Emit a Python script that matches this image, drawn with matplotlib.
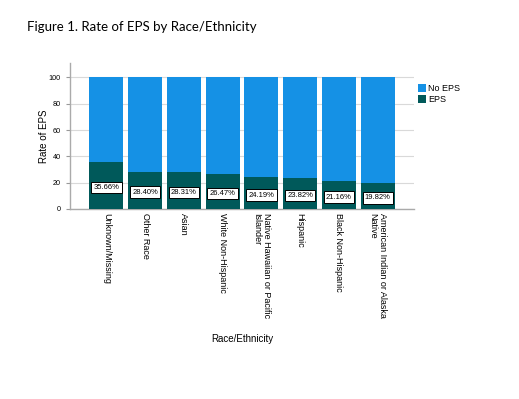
import matplotlib.pyplot as plt

categories = ["Unknown/Missing", "Other Race", "Asian", "White Non-Hispanic",
              "Native Hawaiian or Pacific\nIslander", "Hispanic",
              "Black Non-Hispanic", "American Indian or Alaska\nNative"]
eps = [35.66, 28.40, 28.31, 26.47, 24.19, 23.82, 21.16, 19.82]
no_eps = [100 - v for v in eps]
yticks = [0, 20, 40, 60, 80, 100]

blue = "#1591e5"
teal = "#00595a"

plt.rcParams["font.family"] = ["Liberation Sans", "DejaVu Sans"]

fig = plt.figure(figsize=(5.19, 3.99), dpi=100)
fig.text(0.052, 0.932, "Figure 1. Rate of EPS by Race/Ethnicity",
         fontsize=9.5, family="Lato", va="center")

ax = fig.add_axes([0.1349, 0.4762, 0.6628, 0.366])
x = range(len(categories))
ax.bar(x, eps, width=0.88, color=teal, label="EPS", zorder=3)
ax.bar(x, no_eps, bottom=eps, width=0.88, color=blue, label="No EPS", zorder=3)

for i, v in enumerate(eps):
    ax.text(i, v / 2 - 1.5, f"{v:.2f}%", ha="center", va="center", fontsize=5.5,
            bbox=dict(boxstyle="square,pad=0.3", fc="white", ec="black", lw=0.7),
            zorder=4)

ax.set_xlim(-0.935, 7.935)
ax.set_ylim(0, 111)
ax.set_yticks(yticks)
ax.set_xticks(list(x))
ax.set_xticklabels(categories, rotation=-90, fontsize=6.5, va="top", ha="center",
                   multialignment="left")
ax.tick_params(axis="y", labelsize=5.2, length=3, color="#999999")
ax.tick_params(axis="x", length=0, pad=3)
ax.grid(axis="y", color="#d9d9d9", lw=0.8, zorder=0)
for s in ["top", "right"]:
    ax.spines[s].set_visible(False)
for s in ["left", "bottom"]:
    ax.spines[s].set_color("#aaaaaa")
    ax.spines[s].set_linewidth(1)

ax.set_ylabel("Rate of EPS", fontsize=7, labelpad=0)
ax.set_xlabel("Race/Ethnicity", fontsize=7, labelpad=11)

h, l = ax.get_legend_handles_labels()
ax.legend(h[::-1], l[::-1], loc="upper left", bbox_to_anchor=(1.0, 0.88),
          frameon=False, fontsize=6.5, handlelength=0.9, handleheight=0.9,
          handletextpad=0.3, labelspacing=0.2, borderaxespad=0.0)

fig.savefig("out.png", dpi=100, facecolor="white")
